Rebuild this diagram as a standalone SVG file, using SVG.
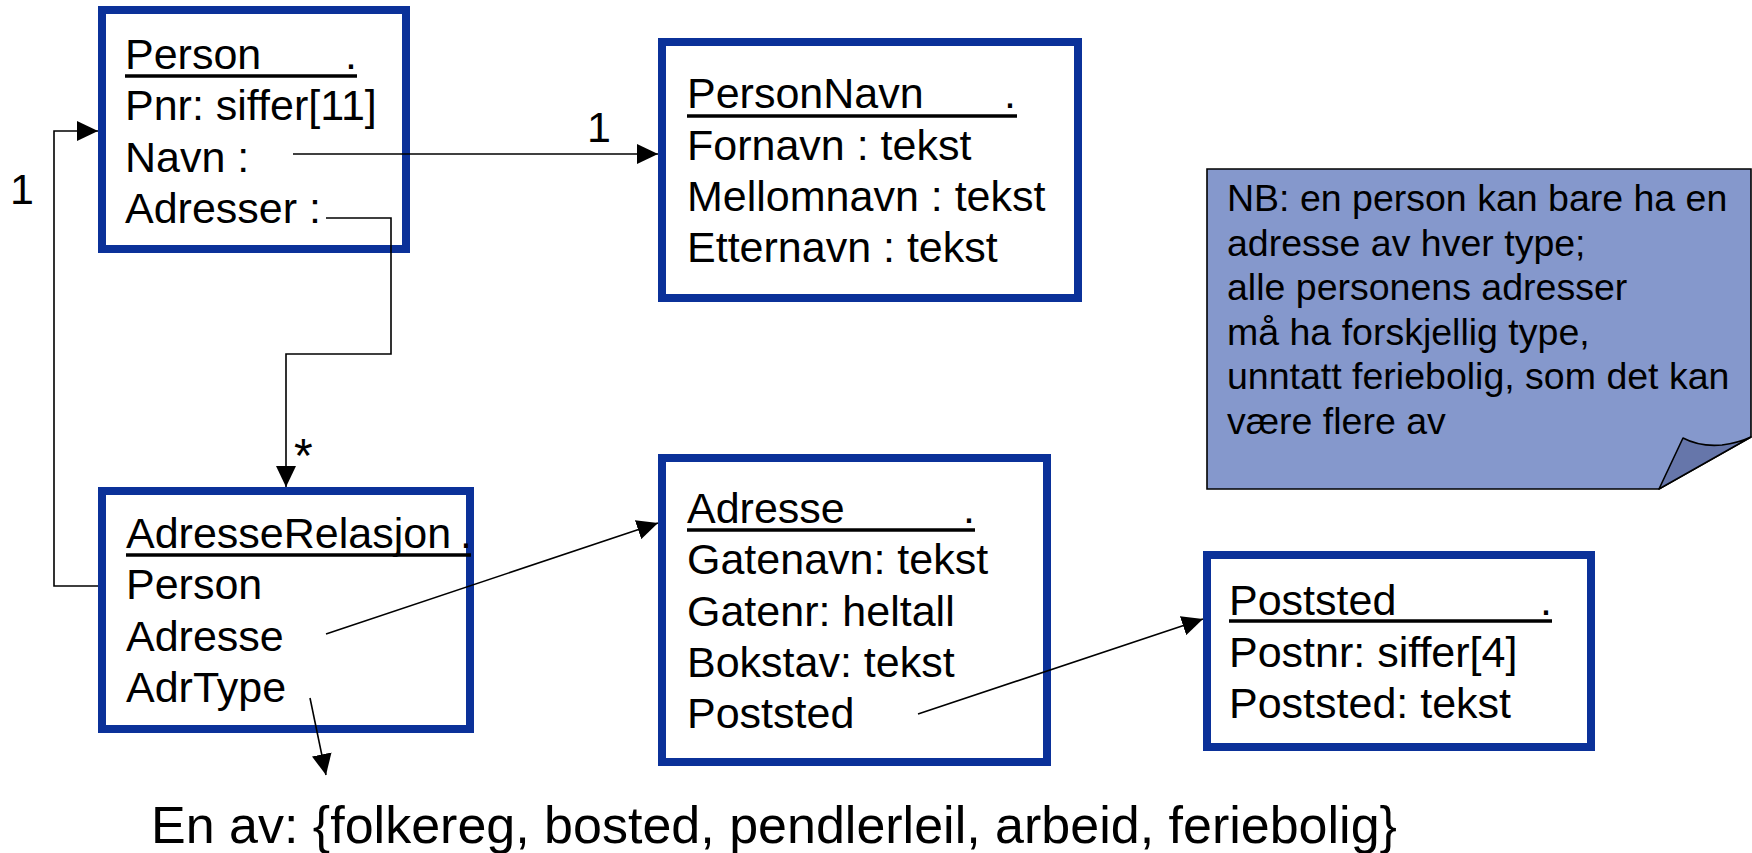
<svg xmlns="http://www.w3.org/2000/svg" width="1752" height="853" viewBox="0 0 1752 853">
  <defs>
    <style>
      text { font-family: "Liberation Sans", Arial, sans-serif; fill: #000; }
      .t { font-size: 43px; }
      .star { font-size: 48px; }
      .note-t { font-size: 37.5px; }
      .enum { font-size: 52px; }
      .box { fill: #fff; stroke: #0b3199; stroke-width: 8; }
      .ul { stroke: #000; stroke-width: 3.5; }
      .conn { fill: none; stroke: #000; stroke-width: 1.6; }
      .note { fill: #8598cc; stroke: #000; stroke-width: 1.6; stroke-linejoin: miter; }
      .fold { fill: #6676aa; stroke: #000; stroke-width: 1.6; stroke-linejoin: round; }
    </style>
    <marker id="arrow" markerUnits="userSpaceOnUse" markerWidth="21" markerHeight="20" refX="21" refY="10" orient="auto">
      <path d="M0,0 L21,10 L0,20 Z" fill="#000"/>
    </marker>
  </defs>

  <rect width="1752" height="853" fill="#fff"/>

  <!-- Person class -->
  <g id="person">
    <rect class="box" x="102" y="10" width="304" height="239"/>
    <text class="t" x="125" y="69">Person<tspan x="345">.</tspan></text>
    <line class="ul" x1="125" y1="76" x2="357" y2="76"/>
    <text class="t" x="125" y="120">Pnr: siffer[11]</text>
    <text class="t" x="125" y="172">Navn :</text>
    <text class="t" x="125" y="223">Adresser :</text>
  </g>

  <!-- PersonNavn class -->
  <g id="personnavn">
    <rect class="box" x="662" y="42" width="416" height="256"/>
    <text class="t" x="687" y="108">PersonNavn<tspan x="1004">.</tspan></text>
    <line class="ul" x1="687" y1="116" x2="1017" y2="116"/>
    <text class="t" x="687" y="160">Fornavn : tekst</text>
    <text class="t" x="687" y="211">Mellomnavn : tekst</text>
    <text class="t" x="687" y="262">Etternavn : tekst</text>
  </g>

  <!-- AdresseRelasjon class -->
  <g id="adresserelasjon">
    <rect class="box" x="102" y="491" width="368" height="238"/>
    <text class="t" x="126" y="548">AdresseRelasjon<tspan x="460">.</tspan></text>
    <line class="ul" x1="126" y1="555" x2="471" y2="555"/>
    <text class="t" x="126" y="599">Person</text>
    <text class="t" x="126" y="651">Adresse</text>
    <text class="t" x="126" y="702">AdrType</text>
  </g>

  <!-- Adresse class -->
  <g id="adresse">
    <rect class="box" x="662" y="458" width="385" height="304"/>
    <text class="t" x="687" y="523">Adresse<tspan x="963">.</tspan></text>
    <line class="ul" x1="687" y1="530" x2="975" y2="530"/>
    <text class="t" x="687" y="574">Gatenavn: tekst</text>
    <text class="t" x="687" y="626">Gatenr: heltall</text>
    <text class="t" x="687" y="677">Bokstav: tekst</text>
    <text class="t" x="687" y="728">Poststed</text>
  </g>

  <!-- Poststed class -->
  <g id="poststed">
    <rect class="box" x="1207" y="555" width="384" height="192"/>
    <text class="t" x="1229" y="615">Poststed<tspan x="1540">.</tspan></text>
    <line class="ul" x1="1229" y1="621" x2="1552" y2="621"/>
    <text class="t" x="1229" y="667">Postnr: siffer[4]</text>
    <text class="t" x="1229" y="718">Poststed: tekst</text>
  </g>

  <!-- Constraint note with folded corner -->
  <g id="note">
    <path class="note" d="M1207,169 L1751,169 L1751,437 L1659,489 L1207,489 Z"/>
    <path class="fold" d="M1659,489 L1683,438 Q1700,447 1722,445 Q1738,443 1751,437 Z"/>
    <text class="note-t" x="1227" y="211">NB: en person kan bare ha en</text>
    <text class="note-t" x="1227" y="256">adresse av hver type;</text>
    <text class="note-t" x="1227" y="300">alle personens adresser</text>
    <text class="note-t" x="1227" y="345">må ha forskjellig type,</text>
    <text class="note-t" x="1227" y="389">unntatt feriebolig, som det kan</text>
    <text class="note-t" x="1227" y="434">være flere av</text>
  </g>

  <!-- Value set for AdrType -->
  <g id="adrtype-values">
    <text class="enum" x="151" y="843">En av: {folkereg, bosted, pendlerleil, arbeid, feriebolig}</text>
  </g>

  <!-- Connectors and multiplicities -->
  <g id="connectors">
    <line class="conn" x1="293" y1="154" x2="658" y2="154" marker-end="url(#arrow)"/>
    <text class="t" x="587" y="142">1</text>

    <polyline class="conn" points="326,218 391,218 391,354 286,354 286,487" marker-end="url(#arrow)"/>
    <text class="star" x="294" y="472">*</text>

    <polyline class="conn" points="98,586 54,586 54,131 98,131" marker-end="url(#arrow)"/>
    <text class="t" x="10" y="204">1</text>

    <line class="conn" x1="326" y1="634" x2="658" y2="523" marker-end="url(#arrow)"/>
    <line class="conn" x1="918" y1="714" x2="1203" y2="619" marker-end="url(#arrow)"/>
    <line class="conn" x1="310" y1="698" x2="326" y2="775" marker-end="url(#arrow)"/>
  </g>
</svg>
